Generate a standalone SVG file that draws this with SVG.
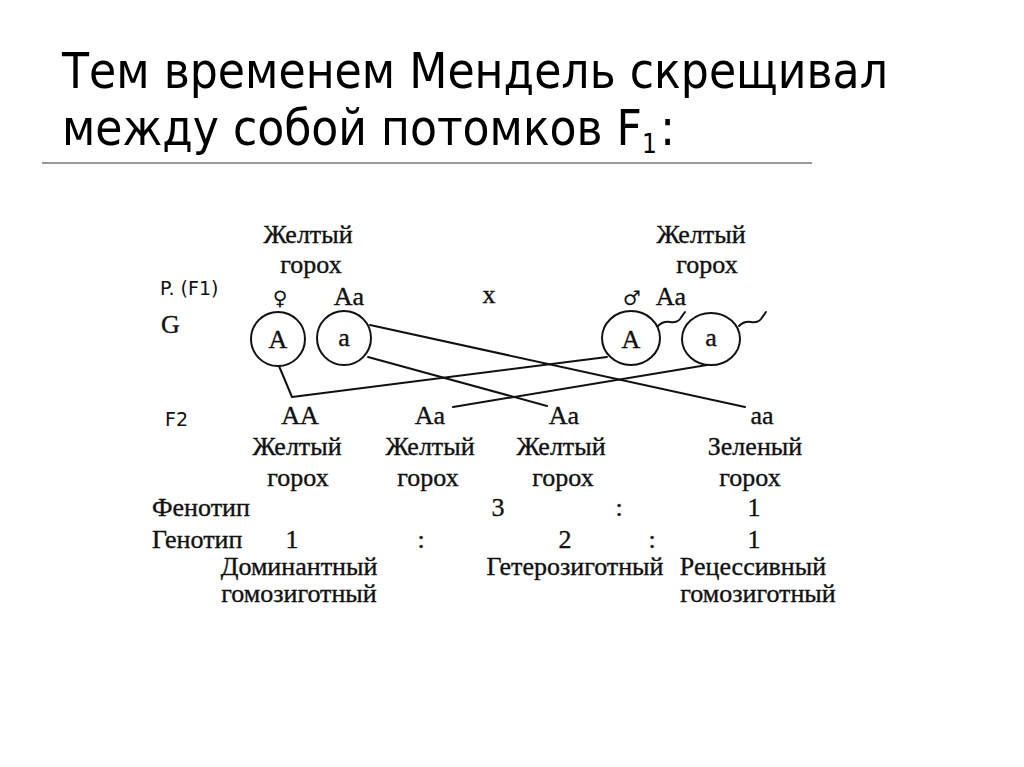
<svg xmlns="http://www.w3.org/2000/svg" width="1024" height="767" viewBox="0 0 1024 767">
<style>
.t{font-family:"Liberation Serif","Times New Roman",serif;font-size:26px;fill:#111;stroke:#111;stroke-width:0.35;text-anchor:middle}
.tl{font-family:"Liberation Serif","Times New Roman",serif;font-size:26px;fill:#111;stroke:#111;stroke-width:0.35}
.s{font-family:"DejaVu Sans",sans-serif;font-size:19px;fill:#111}
.h{font-family:"DejaVu Sans Condensed","DejaVu Sans",sans-serif;font-size:50px;fill:#000}
.sub{font-size:26px}
.c{fill:#fff;stroke:#111;stroke-width:2}
.ln{fill:none;stroke:#111;stroke-width:2;stroke-linecap:round;stroke-linejoin:round}
</style>
<rect width="1024" height="767" fill="#fff"/>
<g id="title">
<text class="h" x="62" y="88" textLength="826" lengthAdjust="spacingAndGlyphs">Тем временем Мендель скрещивал</text>
<text class="h" x="62" y="145"><tspan textLength="580" lengthAdjust="spacingAndGlyphs">между собой потомков F</tspan><tspan class="sub" dy="8">1</tspan><tspan dy="-8" dx="3">:</tspan></text>
<line x1="42" y1="163" x2="812" y2="163" stroke="#777" stroke-width="1.5"/>
</g>
<g id="labels">
<text class="s" x="160" y="295">P. (F1)</text>
<text class="tl" x="161" y="333">G</text>
<text class="s" x="165" y="426">F2</text>
</g>
<g id="parent-female">
<text class="t" x="308" y="243">Желтый</text>
<text class="t" x="311" y="273">горох</text>
<text x="280" y="305" font-family="DejaVu Sans,sans-serif" font-size="20" text-anchor="middle" fill="#111">♀</text>
<text class="t" x="349" y="305">Aa</text>
</g>
<text id="cross" class="t" x="489" y="303">x</text>
<g id="parent-male">
<text class="t" x="701" y="243">Желтый</text>
<text class="t" x="707" y="273">горох</text>
<text x="632" y="305" font-family="DejaVu Sans,sans-serif" font-size="20" text-anchor="middle" fill="#111">♂</text>
<text class="t" x="671" y="305">Aa</text>
</g>
<g id="gamete-A1"><ellipse class="c" cx="278" cy="339" rx="27" ry="27"/><text class="t" x="278" y="348">A</text></g>
<g id="gamete-a1"><ellipse class="c" cx="344" cy="338" rx="27" ry="27"/><text class="t" x="344" y="346">a</text></g>
<g id="gamete-A2"><ellipse class="c" cx="631" cy="338" rx="29" ry="27"/><text class="t" x="631" y="348">A</text><path class="ln" d="M658,326 q5,-5 12,-4 q7,1 10,-3 l5,-7"/></g>
<g id="gamete-a2"><ellipse class="c" cx="711" cy="339" rx="29" ry="26"/><text class="t" x="711" y="346">a</text><path class="ln" d="M739,326 q5,-5 12,-4 q7,1 10,-3 l5,-7"/></g>
<g id="connectors">
<path class="ln" d="M279,366 L292,397 L607,357"/>
<path class="ln" d="M370,325 L745,407"/>
<path class="ln" d="M368,357 L547,406"/>
<path class="ln" d="M707,365 L453,407"/>
</g>
<g id="f2-AA"><text class="t" x="300" y="424">AA</text><text class="t" x="297" y="455">Желтый</text><text class="t" x="298" y="486">горох</text></g>
<g id="f2-Aa1"><text class="t" x="430" y="424">Aa</text><text class="t" x="430" y="455">Желтый</text><text class="t" x="428" y="486">горох</text></g>
<g id="f2-Aa2"><text class="t" x="564" y="424">Aa</text><text class="t" x="561" y="455">Желтый</text><text class="t" x="563" y="486">горох</text></g>
<g id="f2-aa"><text class="t" x="762" y="424">aa</text><text class="t" x="755" y="455">Зеленый</text><text class="t" x="750" y="486">горох</text></g>
<g id="phenotype">
<text class="tl" x="152" y="516">Фенотип</text>
<text class="t" x="498" y="516">3</text>
<text class="t" x="619" y="516">:</text>
<text class="t" x="754" y="516">1</text>
</g>
<g id="genotype">
<text class="tl" x="152" y="548">Генотип</text>
<text class="t" x="292" y="548">1</text>
<text class="t" x="421" y="548">:</text>
<text class="t" x="565" y="548">2</text>
<text class="t" x="652" y="548">:</text>
<text class="t" x="754" y="548">1</text>
</g>
<g id="types">
<text class="t" x="299" y="575">Доминантный</text>
<text class="t" x="299" y="602">гомозиготный</text>
<text class="t" x="575" y="575">Гетерозиготный</text>
<text class="t" x="753" y="575">Рецессивный</text>
<text class="t" x="758" y="602">гомозиготный</text>
</g>
</svg>
